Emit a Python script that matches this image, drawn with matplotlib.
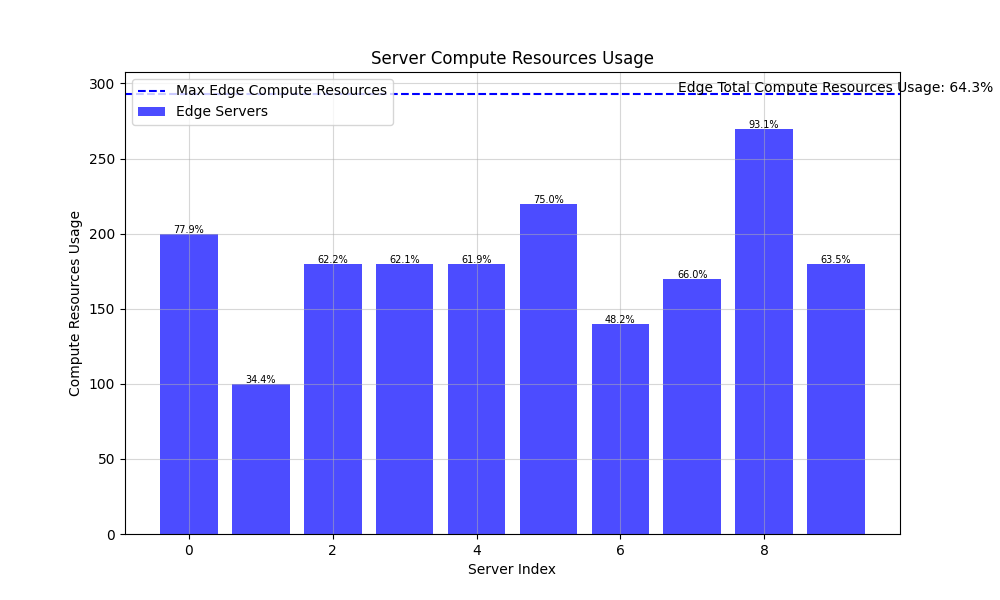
import matplotlib
matplotlib.use("Agg")
import matplotlib.pyplot as plt

servers = list(range(10))
usage = [200, 100, 180, 180, 180, 220, 140, 170, 270, 180]
usage_pct = [77.9, 34.4, 62.2, 62.1, 61.9, 75.0, 48.2, 66.0, 93.1, 63.5]
max_edge = 293
total_pct = 64.3

fig, ax = plt.subplots(figsize=(10, 6))
bars = ax.bar(servers, usage, color='blue', alpha=0.7, label='Edge Servers')
ax.axhline(y=max_edge, color='blue', linestyle='--', label='Max Edge Compute Resources')

for b, pct in zip(bars, usage_pct):
    ax.annotate(f'{pct:.1f}%', (b.get_x() + b.get_width() / 2, b.get_height()),
                xytext=(0, -0.8), textcoords='offset points',
                ha='center', va='bottom', fontsize=7)

ax.annotate(f'Edge Total Compute Resources Usage: {total_pct}%', (9, max_edge),
            xytext=(0, -0.8), textcoords='offset points',
            ha='center', va='bottom', fontsize=10)

ax.set_title('Server Compute Resources Usage')
ax.set_xlabel('Server Index')
ax.set_ylabel('Compute Resources Usage')
ax.grid(True, alpha=0.5)
ax.legend(loc='upper left')

fig.savefig('out.png', dpi=100)
